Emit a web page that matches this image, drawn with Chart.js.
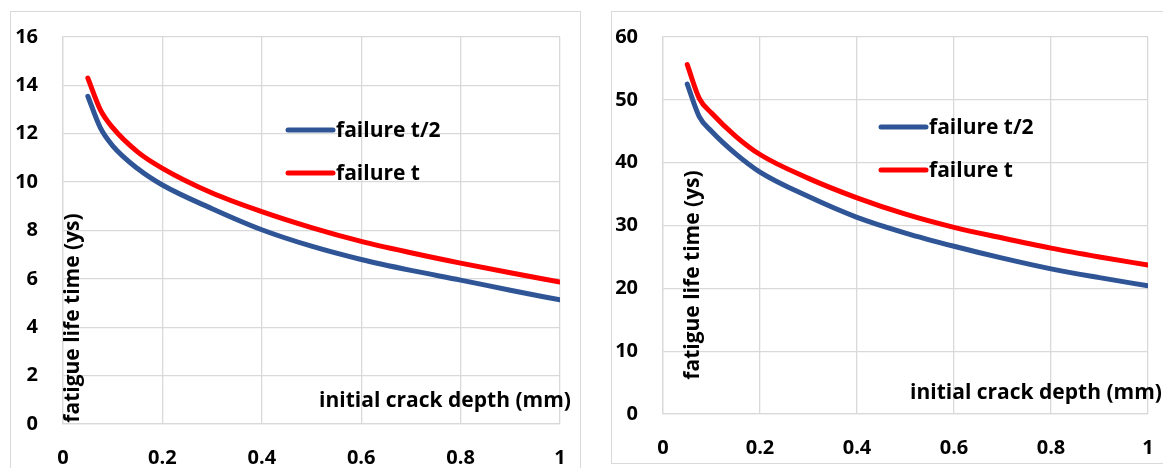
<!DOCTYPE html>
<html>
<head>
<meta charset="utf-8">
<script src="https://cdn.jsdelivr.net/npm/chart.js@4.4.1/dist/chart.umd.min.js"></script>
<style>
  html, body { margin:0; padding:0; background:#fff; }
  body { width:1163px; height:468px; position:relative; overflow:hidden; }
  .panel { position:absolute; border:1px solid #d9d9d9; box-sizing:border-box; }
  canvas { position:absolute; top:0; }
</style>
</head>
<body>
<div class="panel" style="left:10px; top:11px; width:571px; height:470px;"></div>
<div class="panel" style="left:611px; top:11px; width:560px; height:453px;"></div>
<canvas id="c1" width="595" height="468" style="left:0px;"></canvas>
<canvas id="c2" width="568" height="468" style="left:595px;"></canvas>
<script>
// ---- data ----
const crackDepth = [0.05, 0.075, 0.1, 0.15, 0.2, 0.3, 0.4, 0.5, 0.6, 0.7, 0.8, 0.9, 1.0];
const leftHalf = [13.55, 12.25, 11.5, 10.56, 9.88, 8.9, 8.03, 7.35, 6.8, 6.35, 5.95, 5.53, 5.13];
const leftFull = [14.3, 13.0, 12.25, 11.25, 10.57, 9.55, 8.78, 8.12, 7.55, 7.08, 6.65, 6.25, 5.87];
const rightHalf = [52.5, 47.3, 45.0, 41.4, 38.5, 34.6, 31.3, 28.8, 26.7, 24.8, 23.1, 21.7, 20.4];
const rightFull = [55.6, 50.2, 47.9, 44.2, 41.3, 37.5, 34.4, 31.8, 29.7, 28.0, 26.4, 25.0, 23.7];
const seriesNames = ['failure t/2', 'failure t'];
const xTitle = 'initial crack depth (mm)';
const yTitle = 'fatigue life time (ys)';
const leftYTicks = { min: 0, max: 16, step: 2 };
const rightYTicks = { min: 0, max: 60, step: 10 };
const xTicks = { min: 0, max: 1, step: 0.2 };

const FONT = '"Open Sans", "Liberation Sans", sans-serif';
const BLUE = '#2F5597';
const RED = '#FF0000';
const GRID = '#d9d9d9';

function pts(ys) { return crackDepth.map((x, i) => ({ x: x, y: ys[i] })); }

const overlay = {
  id: 'overlay',
  afterDraw(chart, args, o) {
    const ctx = chart.ctx;
    ctx.save();
    ctx.fillStyle = '#000';
    ctx.font = 'bold ' + o.titleSize + 'px ' + FONT;
    ctx.textBaseline = 'middle';
    ctx.textAlign = 'center';
    ctx.fillText(xTitle, o.xTitleX, o.xTitleY);
    ctx.save();
    ctx.translate(o.yTitleX, o.yTitleY);
    ctx.rotate(-Math.PI / 2);
    ctx.fillText(yTitle, 0, 0);
    ctx.restore();
    // legend
    chart.data.datasets.forEach((ds, i) => {
      const y = o.legY + i * o.legGap;
      ctx.strokeStyle = ds.borderColor;
      ctx.lineWidth = 5;
      ctx.lineCap = 'round';
      ctx.beginPath();
      ctx.moveTo(o.legX, y);
      ctx.lineTo(o.legX + 45, y);
      ctx.stroke();
      ctx.textAlign = 'left';
      ctx.font = 'bold ' + o.legSize + 'px ' + FONT;
      ctx.fillText(ds.label, o.legX + 48, y + 1);
    });
    ctx.restore();
  }
};

function makeChart(id, half, full, yT, yAxisW, xAxisH, padRight, xLabelGap, ov) {
  return new Chart(document.getElementById(id), {
    type: 'line',
    data: {
      datasets: [
        { label: seriesNames[0], data: pts(half), borderColor: BLUE, borderWidth: 5, pointRadius: 0, cubicInterpolationMode: 'monotone', borderCapStyle: 'round', fill: false },
        { label: seriesNames[1], data: pts(full), borderColor: RED, borderWidth: 5, pointRadius: 0, cubicInterpolationMode: 'monotone', borderCapStyle: 'round', fill: false }
      ]
    },
    options: {
      responsive: false,
      animation: false,
      devicePixelRatio: 1,
      layout: { padding: { left: 0, top: 34, right: padRight, bottom: 0 } },
      plugins: { legend: { display: false }, tooltip: { enabled: false }, overlay: ov },
      scales: {
        x: {
          type: 'linear', min: xTicks.min, max: xTicks.max,
          grid: { color: GRID, lineWidth: 1.3, drawTicks: true, tickLength: xLabelGap, tickColor: 'rgba(0,0,0,0)' },
          border: { color: GRID, width: 1.3 },
          ticks: { stepSize: xTicks.step, padding: 0, color: '#000', font: { family: FONT, size: 20, weight: 'bold' },
                   callback: v => String(Math.round(v * 10) / 10) },
          afterFit: s => { s.height = xAxisH; }
        },
        y: {
          min: yT.min, max: yT.max,
          grid: { color: GRID, lineWidth: 1.3, drawTicks: false },
          border: { color: GRID, width: 1.3 },
          ticks: { stepSize: yT.step, padding: 25, color: '#000', font: { family: FONT, size: 20, weight: 'bold' } },
          afterFit: s => { s.width = yAxisW; }
        }
      }
    },
    plugins: [overlay]
  });
}

makeChart('c1', leftHalf, leftFull, leftYTicks, 63, 44, 35, 22,
  { titleSize: 21, legSize: 21, xTitleX: 445, xTitleY: 401, yTitleX: 73, yTitleY: 318, legX: 288, legY: 130, legGap: 43 });
makeChart('c2', rightHalf, rightFull, rightYTicks, 68, 54, 15, 22,
  { titleSize: 21, legSize: 21, xTitleX: 441, xTitleY: 393, yTitleX: 98, yTitleY: 275, legX: 286, legY: 127, legGap: 43 });
</script>
</body>
</html>
